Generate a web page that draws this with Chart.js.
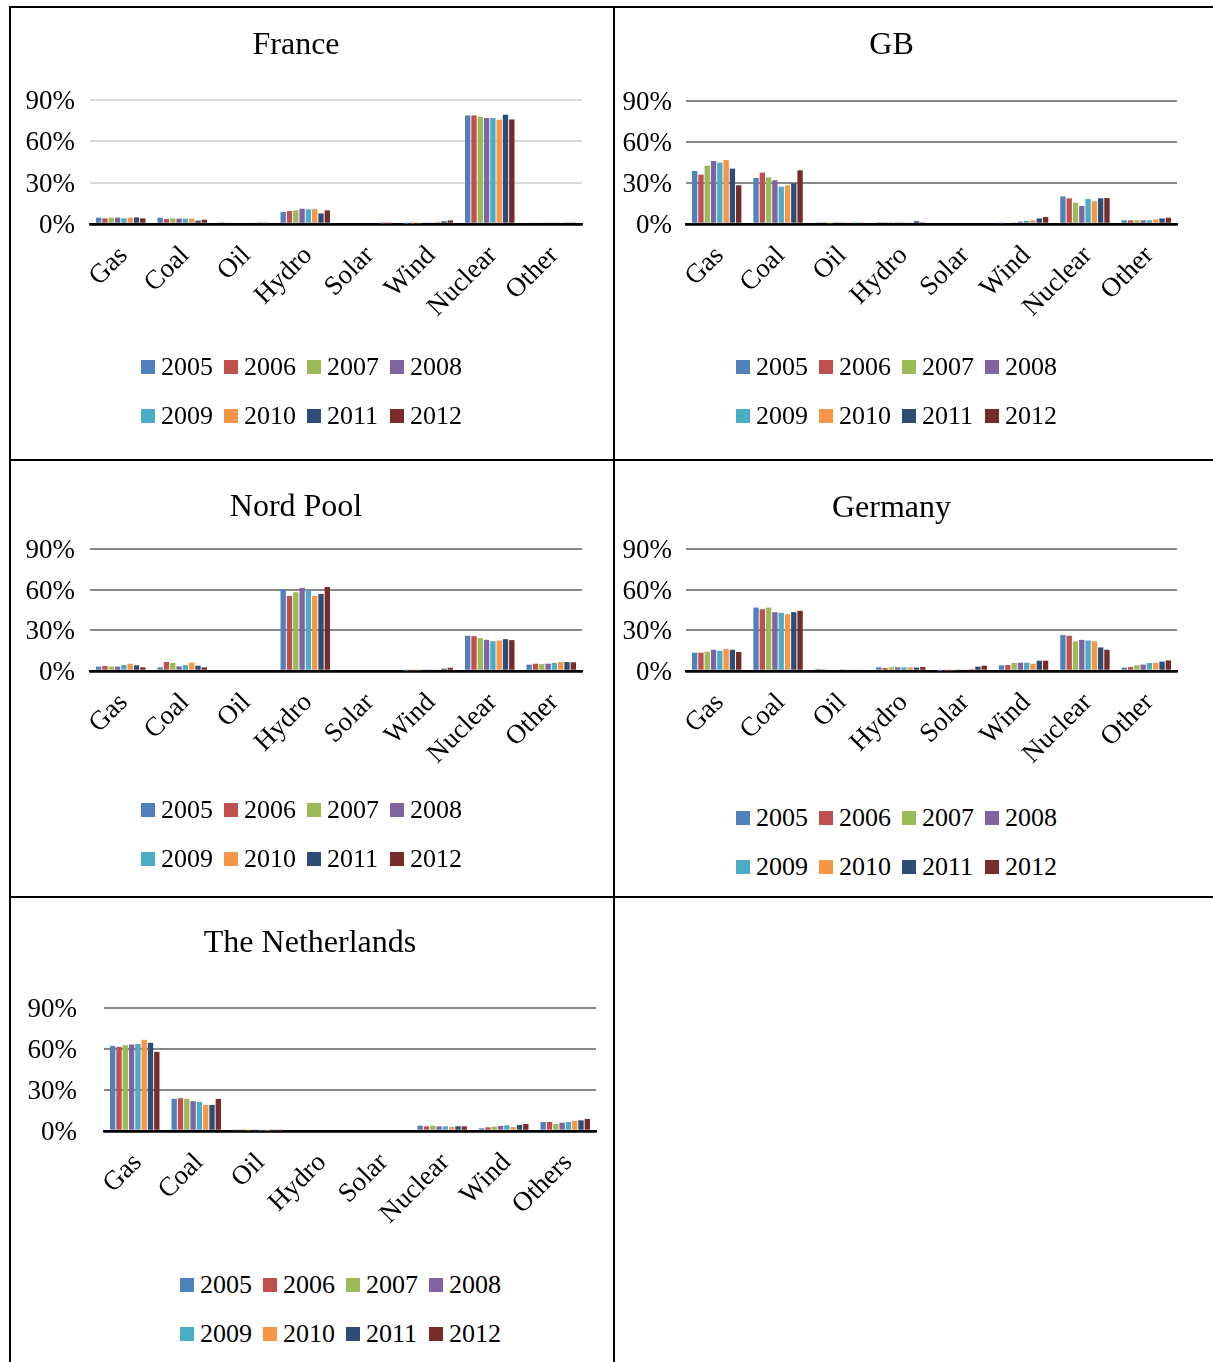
<!DOCTYPE html>
<html><head><meta charset="utf-8">
<script src="https://cdn.jsdelivr.net/npm/chart.js@4.4.1/dist/chart.umd.min.js"></script>
<style>
body{margin:0;width:1213px;height:1362px;background:#fff;position:relative;overflow:hidden;font-family:'Liberation Serif','Times New Roman',serif;}
.line{position:absolute;background:#000;z-index:5;}
canvas{position:absolute;}
.legend{position:absolute;display:flex;flex-wrap:wrap;width:340px;}
.item{width:83px;height:49px;display:flex;align-items:center;font-size:26px;color:#000;white-space:nowrap;}
.box{width:14px;height:14px;margin-right:6px;flex:none;}
</style></head><body>
<script>
const FONT = "'Liberation Serif','Times New Roman',serif";
const years = ['2005','2006','2007','2008','2009','2010','2011','2012'];
const yearColors = ['#4F81BD','#C0504D','#9BBB59','#8064A2','#4BACC6','#F79646','#2C4D75','#772C2A'];
const yTicks = [0, 30, 60, 90];

const catsStd = ['Gas','Coal','Oil','Hydro','Solar','Wind','Nuclear','Other'];
const catsNL = ['Gas','Coal','Oil','Hydro','Solar','Nuclear','Wind','Others'];

// France (Gas, Coal, Oil, Hydro, Solar, Wind, Nuclear, Other) in %
const fr2005 = [4.6, 4.6, 1.2, 8.7, 0, 0.2, 78.8, 1.0];
const fr2006 = [4.1, 3.6, 1.0, 9.4, 0, 0.3, 78.8, 1.0];
const fr2007 = [4.6, 4.1, 0.9, 9.9, 0, 0.5, 77.8, 1.0];
const fr2008 = [4.6, 3.9, 0.9, 11.1, 0, 1.0, 76.9, 1.1];
const fr2009 = [4.1, 3.9, 0.9, 10.6, 0, 1.1, 76.9, 1.1];
const fr2010 = [4.6, 3.9, 0.8, 10.8, 0, 1.5, 75.7, 1.0];
const fr2011 = [4.8, 2.4, 0.6, 7.7, 0.1, 2.0, 79.3, 1.1];
const fr2012 = [4.1, 3.1, 0.5, 9.9, 0.1, 2.6, 75.9, 1.1];

// GB
const gb2005 = [38.8, 33.7, 0.7, 1.2, 0, 0.5, 20.2, 2.7];
const gb2006 = [36.1, 37.6, 1.2, 1.2, 0, 0.9, 18.8, 2.7];
const gb2007 = [42.7, 34.1, 0.5, 1.2, 0, 1.2, 15.6, 2.7];
const gb2008 = [46.1, 32.0, 1.2, 1.2, 0, 1.7, 13.2, 2.7];
const gb2009 = [44.9, 27.3, 1.2, 1.2, 0, 2.2, 18.3, 2.7];
const gb2010 = [46.8, 28.3, 0.7, 0.8, 0, 2.7, 16.6, 3.4];
const gb2011 = [40.5, 29.8, 0.5, 2.0, 0, 4.1, 18.8, 4.1];
const gb2012 = [28.3, 39.3, 0.5, 1.2, 0, 5.1, 19.0, 4.6];

// Nord Pool
const np2005 = [3.2, 2.7, 0, 60.5, 0, 0.2, 26.0, 4.7];
const np2006 = [3.7, 6.6, 0, 55.4, 0, 0.3, 25.7, 5.4];
const np2007 = [3.2, 5.9, 0, 58.1, 0, 0.5, 24.3, 5.1];
const np2008 = [3.2, 3.4, 0, 61.3, 0, 0.6, 23.0, 5.4];
const np2009 = [4.4, 4.4, 0, 59.6, 0, 0.7, 22.0, 5.9];
const np2010 = [5.4, 6.1, 0, 55.4, 0, 0.8, 22.5, 6.6];
const np2011 = [4.2, 3.9, 0, 56.9, 0, 1.7, 23.5, 6.6];
const np2012 = [2.7, 2.7, 0, 62.0, 0, 2.4, 22.8, 6.4];

// Germany
const de2005 = [13.5, 46.8, 1.5, 2.7, 0.1, 4.2, 26.5, 2.5];
const de2006 = [13.5, 45.6, 1.2, 2.2, 0.2, 4.4, 26.0, 2.9];
const de2007 = [14.2, 46.8, 1.0, 2.7, 0.4, 5.9, 21.8, 4.2];
const de2008 = [15.7, 43.4, 1.0, 2.7, 0.6, 6.1, 23.0, 4.7];
const de2009 = [14.9, 42.9, 1.2, 2.7, 1.0, 6.1, 22.5, 5.9];
const de2010 = [16.2, 41.9, 1.0, 2.7, 1.7, 5.4, 22.0, 5.9];
const de2011 = [15.7, 43.4, 1.0, 2.5, 3.2, 7.6, 17.4, 6.9];
const de2012 = [14.0, 44.4, 1.0, 2.9, 3.9, 7.6, 15.7, 7.8];

// The Netherlands (Gas, Coal, Oil, Hydro, Solar, Nuclear, Wind, Others)
const nl2005 = [62.3, 23.5, 0.5, 0, 0, 3.9, 2.0, 6.6];
const nl2006 = [61.6, 24.0, 0.5, 0, 0, 3.4, 2.7, 6.6];
const nl2007 = [62.8, 23.5, 0.4, 0, 0, 3.9, 3.2, 5.1];
const nl2008 = [63.3, 21.8, 0.4, 0, 0, 3.4, 3.7, 6.1];
const nl2009 = [63.6, 21.3, 0.3, 0, 0, 3.4, 4.2, 6.6];
const nl2010 = [66.7, 19.1, 0.2, 0, 0, 2.9, 2.9, 7.3];
const nl2011 = [64.5, 19.1, 0.1, 0, 0, 3.4, 4.4, 7.8];
const nl2012 = [57.9, 23.5, 0.1, 0, 0, 3.4, 5.1, 8.8];

const TITLE_SIZE = 32;

function build(spec) {
  const L = spec.plotL - 80, T = spec.cellTop + 2;
  const W = spec.plotR - L + 20, XH = 120, H = spec.plotB - T + XH;
  const canvas = document.createElement('canvas');
  canvas.width = W; canvas.height = H;
  canvas.style.left = L + 'px'; canvas.style.top = T + 'px';
  canvas.style.width = W + 'px'; canvas.style.height = H + 'px';
  document.body.appendChild(canvas);
  const lh = TITLE_SIZE * 1.2;
  const ptop = spec.titleY - T - lh / 2;
  const pbot = spec.plotT - T - lh - ptop;
  const gridCol = spec.light ? '#d9d9d9' : '#888888';
  const chart = new Chart(canvas, {
    type: 'bar',
    data: {
      labels: spec.cats,
      datasets: years.map((y, i) => ({
        label: y, data: spec.series[i], backgroundColor: yearColors[i],
        categoryPercentage: 0.82, barPercentage: 0.85
      }))
    },
    options: {
      responsive: false, animation: false, devicePixelRatio: 1,
      layout: {padding: {left: 0, right: 20, top: 0, bottom: 0}},
      plugins: {
        legend: {display: false}, tooltip: {enabled: false},
        title: {display: true, text: spec.title, color: '#000',
          font: {family: FONT, size: TITLE_SIZE, weight: 'normal'},
          padding: {top: ptop, bottom: pbot}}
      },
      scales: {
        x: {
          grid: {display: false, drawTicks: false},
          border: {display: true, color: '#000', width: 2.5},
          ticks: {color: '#000', font: {family: FONT, size: 27}, minRotation: 45, maxRotation: 45, padding: 16, labelOffset: 3, autoSkip: false},
          afterFit: s => { s.height = XH; }
        },
        y: {
          min: 0, max: 90,
          afterBuildTicks: s => { s.ticks = yTicks.map(v => ({value: v})); },
          ticks: {callback: v => v + '%', color: '#000', font: {family: FONT, size: 27}, padding: spec.yPad, labelOffset: 2},
          grid: {color: c => (c.tick && c.tick.value === 0) ? '#000' : gridCol, lineWidth: c => (c.tick && c.tick.value === 0) ? 2.5 : 2, drawTicks: false},
          border: {display: false},
          afterFit: s => { s.width = 80; }
        }
      }
    }
  });
  // legend from chart datasets
  const lg = document.createElement('div');
  lg.className = 'legend';
  lg.style.left = spec.legX + 'px';
  lg.style.top = (spec.legY - 24.5) + 'px';
  chart.data.datasets.forEach(ds => {
    const it = document.createElement('div'); it.className = 'item';
    const b = document.createElement('span'); b.className = 'box'; b.style.background = ds.backgroundColor;
    it.appendChild(b); it.appendChild(document.createTextNode(ds.label));
    lg.appendChild(it);
  });
  document.body.appendChild(lg);
}

build({title: 'France', cats: catsStd, series: [fr2005, fr2006, fr2007, fr2008, fr2009, fr2010, fr2011, fr2012],
  plotL: 90, plotR: 582, plotT: 100, plotB: 224, cellTop: 7, titleY: 46, legX: 141, legY: 367, yPad: 15, light: true});
build({title: 'GB', cats: catsStd, series: [gb2005, gb2006, gb2007, gb2008, gb2009, gb2010, gb2011, gb2012],
  plotL: 686, plotR: 1177, plotT: 101, plotB: 224, cellTop: 7, titleY: 46, legX: 736, legY: 367, yPad: 14});
build({title: 'Nord Pool', cats: catsStd, series: [np2005, np2006, np2007, np2008, np2009, np2010, np2011, np2012],
  plotL: 90, plotR: 582, plotT: 549, plotB: 671, cellTop: 460, titleY: 508, legX: 141, legY: 810, yPad: 15});
build({title: 'Germany', cats: catsStd, series: [de2005, de2006, de2007, de2008, de2009, de2010, de2011, de2012],
  plotL: 686, plotR: 1177, plotT: 549, plotB: 671, cellTop: 460, titleY: 509, legX: 736, legY: 818, yPad: 14});
build({title: 'The Netherlands', cats: catsNL, series: [nl2005, nl2006, nl2007, nl2008, nl2009, nl2010, nl2011, nl2012],
  plotL: 104, plotR: 596, plotT: 1008, plotB: 1131, cellTop: 897, titleY: 944, legX: 180, legY: 1285, yPad: 27});

// table borders
function line(x, y, w, h) {
  const d = document.createElement('div'); d.className = 'line';
  d.style.left = x + 'px'; d.style.top = y + 'px'; d.style.width = w + 'px'; d.style.height = h + 'px';
  document.body.appendChild(d);
}
line(9, 6, 1204, 2);
line(9, 6, 2, 1356);
line(613, 6, 2, 1356);
line(9, 459, 1204, 2);
line(9, 896, 1204, 2);
</script>
</body></html>
